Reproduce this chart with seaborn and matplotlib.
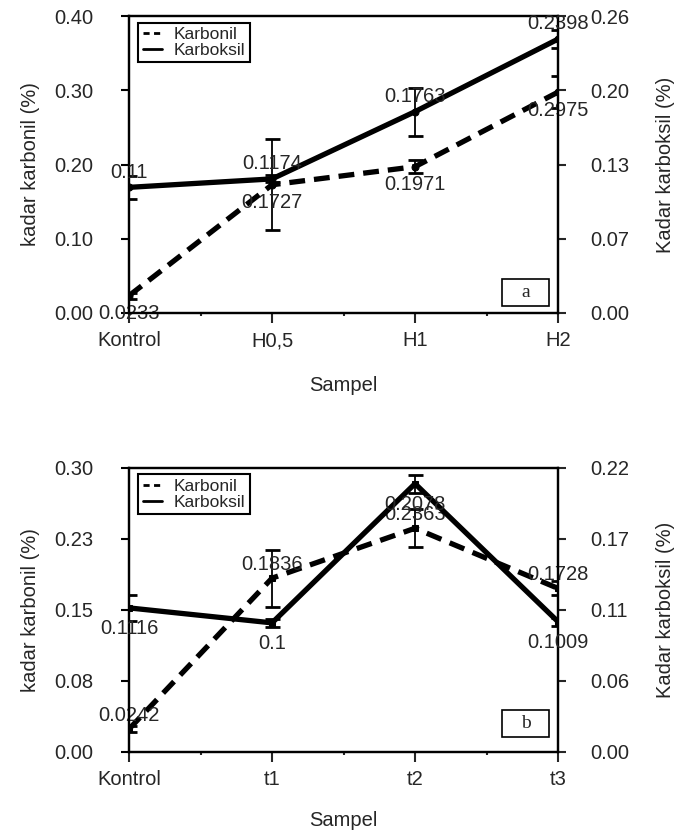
import numpy as np
import pandas as pd
import seaborn as sns
import matplotlib.pyplot as plt
from matplotlib.lines import Line2D
from matplotlib.patches import Rectangle

sns.set_theme(style="ticks")
plt.rcParams['font.family'] = ['Liberation Sans', 'DejaVu Sans']

# panel a
cats_a = ['Kontrol', 'H0,5', 'H1', 'H2']
karbonil_a = [0.0233, 0.1727, 0.1971, 0.2975]
karbonil_err_a = [0.004, 0.061, 0.009, 0.022]
karboksil_a = [0.11, 0.1174, 0.1763, 0.2398]
karboksil_err_a = [0.0098, 0.003, 0.021, 0.008]
yticks_left_a = ['0.00', '0.10', '0.20', '0.30', '0.40']
yticks_right_a = ['0.00', '0.07', '0.13', '0.20', '0.26']

# panel b
cats_b = ['Kontrol', 't1', 't2', 't3']
karbonil_b = [0.0242, 0.1836, 0.2363, 0.1728]
karbonil_err_b = [0.003, 0.03, 0.02, 0.0075]
karboksil_b = [0.1116, 0.1, 0.2078, 0.1009]
karboksil_err_b = [0.0099, 0.003, 0.007, 0.003]
yticks_left_b = ['0.00', '0.08', '0.15', '0.23', '0.30']
yticks_right_b = ['0.00', '0.06', '0.11', '0.17', '0.22']

FS = 14.5


def panel(ax, cats, bonil, bonil_err, boksil, boksil_err, ymax_l, ymax_r,
          lab_l, lab_r, marker, off_bonil, off_boksil, tag, tagbox, xpad):
    df = pd.DataFrame({'Sampel': cats, 'Karbonil': bonil, 'Karboksil': boksil})
    x = np.arange(len(cats))

    sns.lineplot(data=df, x='Sampel', y='Karbonil', ax=ax, color='black',
                 lw=3.8, linestyle=(0, (3, 1.7)), marker=marker, ms=5,
                 mec='black', mfc='black')
    ax.errorbar(x, bonil, yerr=bonil_err, fmt='none', ecolor='black',
                elinewidth=1.3, capsize=5.4, capthick=2)

    ax2 = ax.twinx()
    sns.lineplot(data=df, x='Sampel', y='Karboksil', ax=ax2, color='black',
                 lw=3.8, marker=marker, ms=5, mec='black', mfc='black')
    ax2.errorbar(x, boksil, yerr=boksil_err, fmt='none', ecolor='black',
                 elinewidth=1.3, capsize=5.4, capthick=2)

    for i, v in enumerate(bonil):
        ax.annotate(f"{v:g}", (i, v), xytext=(0, off_bonil), textcoords='offset points',
                    ha='center', va='center', fontsize=FS, zorder=5)
    for i, v in enumerate(boksil):
        ax2.annotate(f"{v:g}", (i, v), xytext=(0, off_boksil), textcoords='offset points',
                     ha='center', va='center', fontsize=FS, zorder=5)

    ax.set_xlim(0, len(cats) - 1)
    ax.set_xticks(x)
    ax.set_xticklabels(cats, fontsize=FS)
    ax.set_xticks(x[:-1] + 0.5, minor=True)
    ax.set_ylim(0, ymax_l)
    ax.set_yticks(np.linspace(0, ymax_l, 5))
    ax.set_yticklabels(lab_l, fontsize=FS)
    ax2.set_ylim(0, ymax_r)
    ax2.set_yticks(np.linspace(0, ymax_r, 5))
    ax2.set_yticklabels(lab_r, fontsize=FS)

    ax.tick_params(axis='y', direction='out', length=6, width=1.5, pad=20, color='black')
    ax.tick_params(axis='x', which='major', direction='out', length=7, width=1.5, pad=6)
    ax.tick_params(axis='x', which='minor', direction='out', length=2.5, width=1.5)
    ax2.tick_params(axis='y', direction='out', length=6, width=1.5, pad=17)

    ax.set_xlabel('Sampel', fontsize=FS, labelpad=xpad)
    ax.set_ylabel('kadar karbonil (%)', fontsize=FS, labelpad=10)
    ax2.set_ylabel('Kadar karboksil (%)', fontsize=FS, labelpad=19)

    for a in (ax, ax2):
        for s in a.spines.values():
            s.set_color('black')
            s.set_linewidth(1.6)

    handles = [Line2D([], [], color='black', lw=2, linestyle=(0, (2.2, 1.6))),
               Line2D([], [], color='black', lw=2)]
    leg = ax2.legend(handles, ['Karbonil', 'Karboksil'], loc='upper left',
                     bbox_to_anchor=(0.022, 0.978), fontsize=12.5, frameon=True,
                     fancybox=False, edgecolor='black', framealpha=1,
                     handlelength=1.1, handletextpad=0.7, borderpad=0.25,
                     labelspacing=0.05, borderaxespad=0)
    leg.get_frame().set_linewidth(1.5)

    x0, y0, w, h = tagbox
    ax2.add_patch(Rectangle((x0, y0), w, h, transform=ax2.transAxes, fill=True,
                            fc='white', ec='black', lw=1.2, zorder=6))
    ax2.text(x0 + w / 2, y0 + h / 2, tag, transform=ax2.transAxes, ha='center',
             va='center', fontsize=14, family='Liberation Serif', zorder=7)
    return ax2


fig = plt.figure(figsize=(6.87, 8.30), dpi=100)
ax_a = fig.add_axes([0.1878, 0.6229, 0.6245, 0.3578])
ax_b = fig.add_axes([0.1878, 0.0940, 0.6245, 0.3422])

panel(ax_a, cats_a, karbonil_a, karbonil_err_a, karboksil_a, karboksil_err_a,
      0.40, 0.26, yticks_left_a, yticks_right_a, 'o', -13, 11, 'a',
      (0.869, 0.025, 0.11, 0.088), 19)
panel(ax_b, cats_b, karbonil_b, karbonil_err_b, karboksil_b, karboksil_err_b,
      0.30, 0.22, yticks_left_b, yticks_right_b, 's', 10, -15, 'b',
      (0.869, 0.053, 0.11, 0.095), 16)

fig.savefig('out.png', dpi=100)
